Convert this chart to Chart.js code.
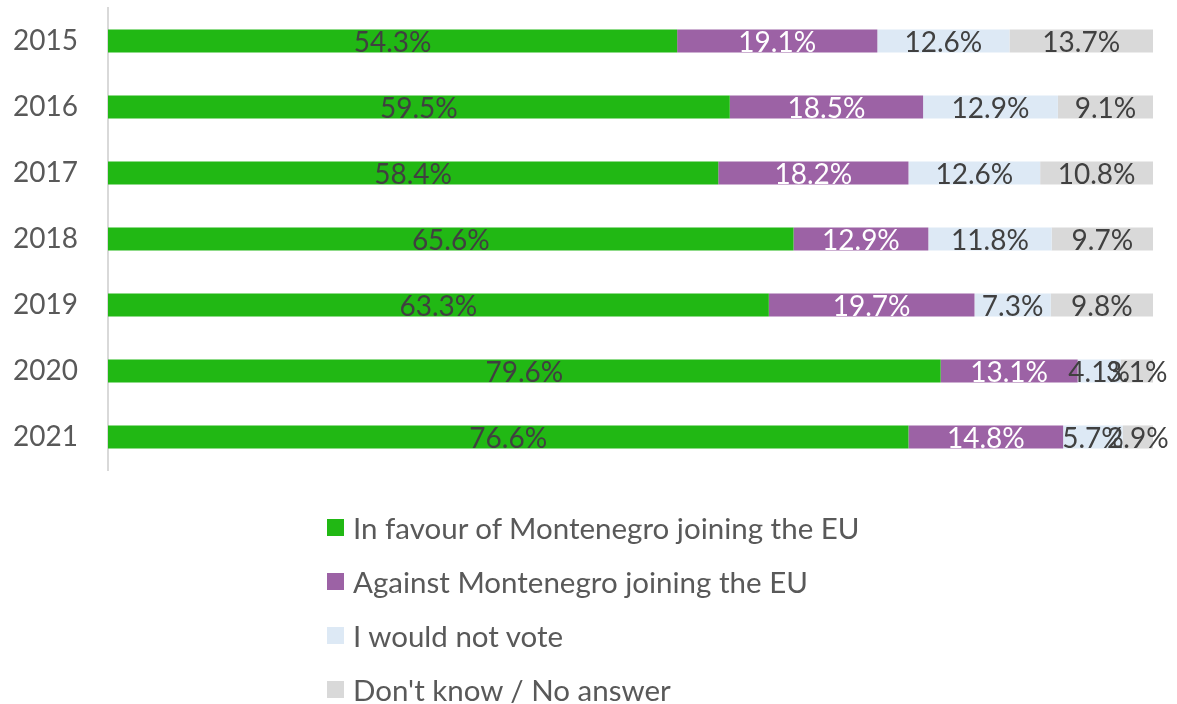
<!DOCTYPE html>
<html>
<head>
<meta charset="utf-8">
<script src="https://cdn.jsdelivr.net/npm/chart.js@4.4.0/dist/chart.umd.min.js"></script>
<style>
  html, body { margin: 0; padding: 0; background: #fff; }
  #wrap { position: relative; width: 1177px; height: 704px; }
  #legend { position: absolute; left: 327px; top: 500px; font-family: Lato, sans-serif; font-size: 29.5px; color: #595959; }
  #legend div { height: 54px; display: flex; align-items: center; white-space: nowrap; }
  #legend span.box { width: 17px; height: 17px; margin-right: 9px; display: inline-block; }
</style>
</head>
<body>
<div id="wrap">
  <canvas id="chart" width="1177" height="704"></canvas>
  <div id="legend"></div>
</div>
<script>
const years = ['2015', '2016', '2017', '2018', '2019', '2020', '2021'];
const inFavour = [54.3, 59.5, 58.4, 65.6, 63.3, 79.6, 76.6];
const against = [19.1, 18.5, 18.2, 12.9, 19.7, 13.1, 14.8];
const wouldNotVote = [12.6, 12.9, 12.6, 11.8, 7.3, 4.1, 5.7];
const dontKnow = [13.7, 9.1, 10.8, 9.7, 9.8, 3.1, 2.9];

const seriesNames = ['In favour of Montenegro joining the EU', 'Against Montenegro joining the EU', 'I would not vote', "Don't know / No answer"];
const seriesColors = ['#21B814', '#9C62A5', '#DDE9F5', '#D9D9D9'];
const labelColors = ['#404040', '#ffffff', '#404040', '#404040'];

const allSeries = [inFavour, against, wouldNotVote, dontKnow];
// 100% stacked: each year is scaled to its own total, labels keep the raw value
const totals = years.map((y, j) => allSeries.reduce((s, arr) => s + arr[j], 0));

// draws the value in the middle of every segment
const barLabels = {
    id: 'barLabels',
    afterDatasetsDraw(chart) {
        const ctx = chart.ctx;
        ctx.save();
        ctx.font = '28px Lato, sans-serif';
        ctx.textAlign = 'center';
        ctx.textBaseline = 'middle';
        chart.data.datasets.forEach((ds, i) => {
            chart.getDatasetMeta(i).data.forEach((bar, j) => {
                const cx = (bar.x + bar.base) / 2;
                ctx.fillStyle = labelColors[i];
                ctx.fillText(allSeries[i][j].toFixed(1) + '%', cx, bar.y + 2);
            });
        });
        ctx.restore();
    }
};

const datasets = allSeries.map((data, i) => ({
    label: seriesNames[i],
    data: data.map((v, j) => v / totals[j] * 100),
    backgroundColor: seriesColors[i],
    borderWidth: 0,
    categoryPercentage: 1,
    barPercentage: 0.35
}));

new Chart(document.getElementById('chart'), {
    type: 'bar',
    data: { labels: years, datasets: datasets },
    options: {
        indexAxis: 'y',
        responsive: false,
        animation: false,
        layout: { padding: { top: 8, right: 24, bottom: 234, left: 0 } },
        scales: {
            x: { stacked: true, min: 0, max: 100, display: false },
            y: {
                stacked: true,
                grid: { display: false, drawTicks: false },
                border: { color: '#D9D9D9', width: 2 },
                ticks: { color: '#595959', font: { family: 'Lato', size: 28 }, padding: 30 },
                afterFit(scale) {
                    scale.width = 108;
                    scale.paddingTop = 0;
                    scale.paddingBottom = 0;
                }
            }
        },
        plugins: { legend: { display: false }, tooltip: { enabled: false } }
    },
    plugins: [barLabels]
});

// vertical legend under the chart
const legend = document.getElementById('legend');
seriesNames.forEach((name, i) => {
    const row = document.createElement('div');
    row.innerHTML = `<span class="box" style="background:${seriesColors[i]}"></span>${name}`;
    legend.appendChild(row);
});
</script>
</body>
</html>
